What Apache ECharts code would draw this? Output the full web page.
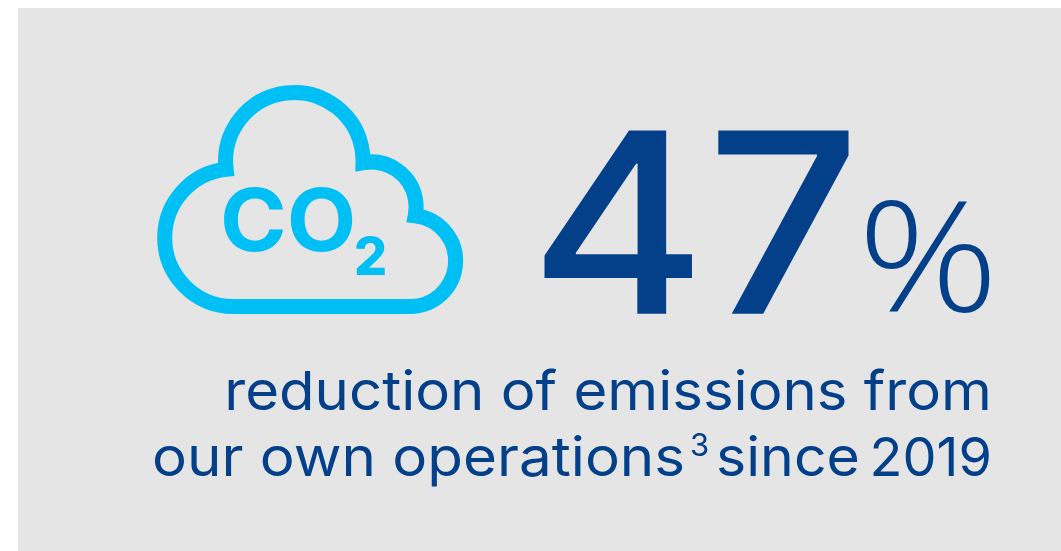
<!DOCTYPE html>
<html>
<head>
<meta charset="utf-8">
<style>
  html, body { margin: 0; padding: 0; background: #fff; }
  #main { width: 1061px; height: 551px; }
</style>
<script src="https://cdn.jsdelivr.net/npm/echarts@6/dist/echarts.min.js"></script>
</head>
<body>
<div id="main"></div>
<script>
  // the figure and its caption
  var statValue = ['47'];
  var statUnit = ['%'];
  var gasLabel = ['CO', '2'];
  var captionLine1 = ['reduction of emissions from'];
  var captionLine2 = ['our own operations', '3', 'since', '2019'];

  var navy = '#04408a';
  var cyan = '#00bff5';
  var panel = '#e5e5e5';
  var fontName = 'Inter';

  // cloud outline, centre line of the stroke
  var cloudPath = 'M233.3 306.5 A68.8 68.8 0 0 1 226.1 169.3 A68.7 68.7 0 1 1 363 162.7 ' +
    'A45 45 0 0 1 415.3 215.7 A45.55 45.55 0 0 1 410 306.5 Z';
  echarts.graphic.registerShape('cloud', echarts.graphic.extendPath(cloudPath));

  function label(text, x, y, size, weight, color, align, sx, font) {
    return {
      type: 'text',
      x: x,
      y: y,
      scaleX: sx || 1,
      style: {
        text: text,
        x: 0,
        y: 0,
        fill: color,
        align: align,
        verticalAlign: 'middle',
        fontFamily: font || fontName,
        fontSize: size,
        fontWeight: weight
      }
    };
  }

  var chart = echarts.init(document.getElementById('main'));
  chart.setOption({
    backgroundColor: '#fff',
    animation: false,
    graphic: [
      { type: 'rect', shape: { x: 18, y: 8, width: 1043, height: 543 }, style: { fill: panel } },
      {
        type: 'cloud',
        style: { fill: 'none', stroke: cyan, lineWidth: 15, lineJoin: 'miter', miterLimit: 6 }
      },
      label(gasLabel[0], 220, 225.5, 86, 700, cyan, 'left', 1.05),
      label(gasLabel[1], 354, 259, 52, 800, cyan, 'left', 1),
      label(statValue[0], 529.5, 238, 252, 450, navy, 'left', 1.07),
      label(statUnit[0], 999, 268.5, 154, 300, navy, 'right', 1.14, 'Open Sans'),
      label(captionLine1[0], 992, 394, 54, 400, navy, 'right', 1.076),
      label(captionLine2[0], 152, 460, 54, 400, navy, 'left', 1.08),
      label(captionLine2[1], 690, 447, 31, 400, navy, 'left', 1),
      label(captionLine2[2], 716, 460, 54, 400, navy, 'left', 1.06),
      label(captionLine2[3], 992, 460, 54, 400, navy, 'right', 1)
    ]
  });
</script>
</body>
</html>
